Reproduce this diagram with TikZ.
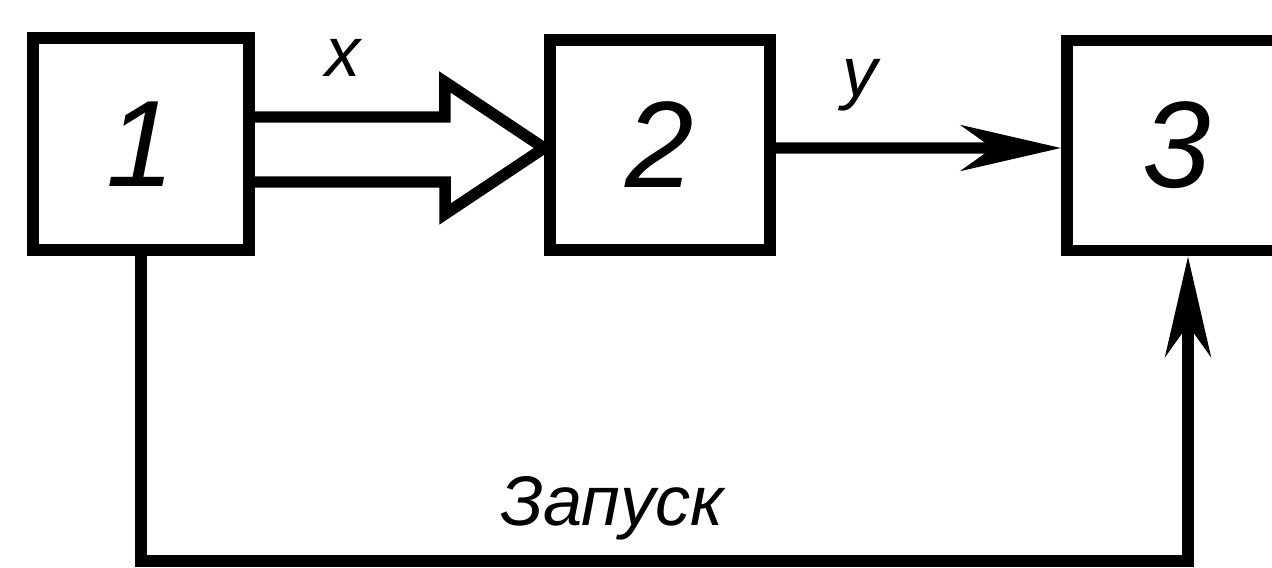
\documentclass[tikz,border=0pt]{standalone}
\usepackage{fontspec}
\setmainfont{Liberation Sans}
\usetikzlibrary{arrows.meta,calc}
\begin{document}
\begin{tikzpicture}[x=0.02cm,y=-0.02cm,
  blk/.style={draw, line width=6.8pt, minimum width=4.4cm, minimum height=4.2cm, inner sep=0pt,
              font=\fontsize{70}{70}\selectfont\itshape},
  lbl/.style={font=\fontsize{40}{40}\selectfont\itshape, inner sep=0pt},
  ln/.style={line width=6.5pt, line join=miter, miter limit=10},
  tipped/.style={-{Stealth[length=57pt,width=26pt,inset=18pt]}}]
\clip (0,0) rectangle (1272,568);
\fill[white] (0,0) rectangle (1272,568);
\node[blk, minimum width=4.32cm, minimum height=4.24cm] (b1) at (141,144) {1};
\node[blk] (b2) at (660,145) {2};
\node[blk] (b3) at (1177,145.5) {3};
\draw[ln] ($(b1.east)+(0,-27)$) -- ++(190,0) -- ++(0,-35) -- ($(b2.west)+(0,3)$)
  -- ++(-99,66) -- ++(0,-32) -- ($(b1.east)+(0,38)$);
\draw[ln, tipped] ($(b2.east)+(0,3)$) -- ($(b3.west)+(0,2.5)$);
\draw[ln, tipped] (b1.south) -- ++(0,305) -| ($(b3.south)+(11,0)$);
\node[lbl] (lx) at (343,58) {x};
\node[lbl] (ly) at (860,85) {y};
\node[lbl] (lz) at (612,508) {Запуск};
\end{tikzpicture}
\end{document}
